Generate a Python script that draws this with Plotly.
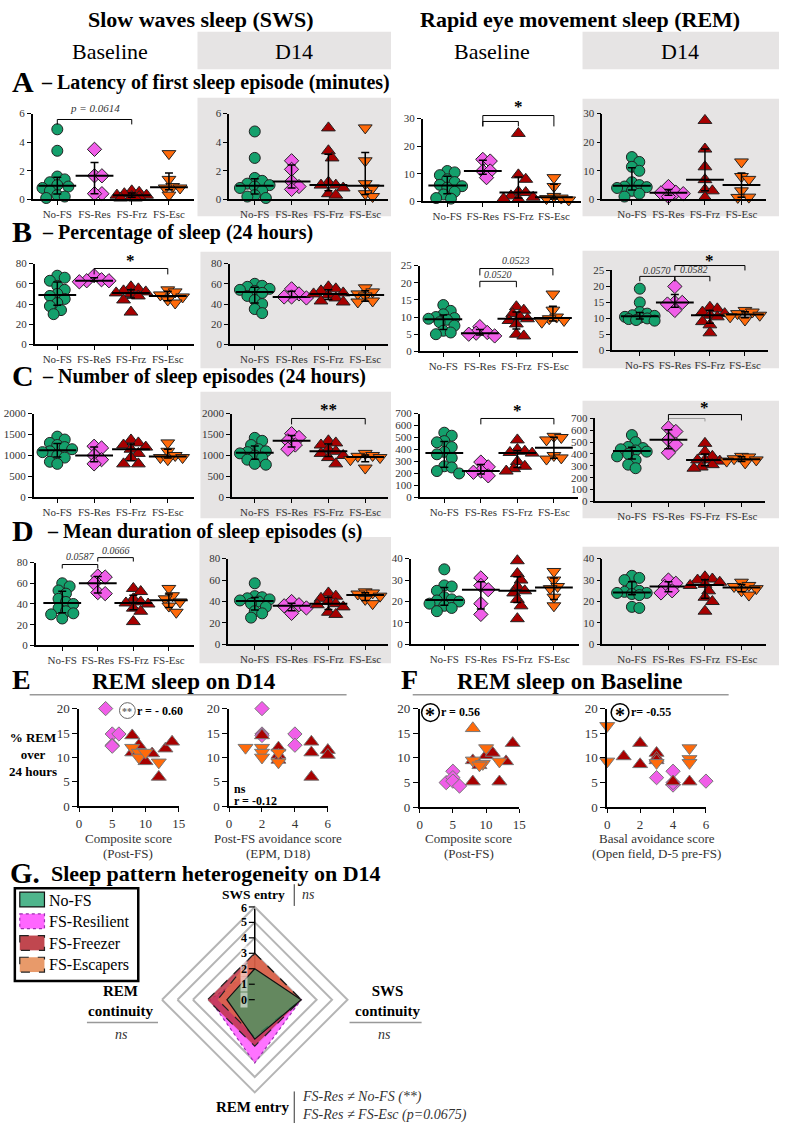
import numpy as np
import plotly.graph_objects as go

W, H = 786, 1133
SERIF = "Liberation Serif"

GROUPS = ["No-FS", "FS-Res", "FS-Frz", "FS-Esc"]
COLORS = ["#14a06c", "#f05ee8", "#a80000", "#ff6a0a"]
SYMBOLS = ["circle", "diamond", "triangle-up", "triangle-down"]

# ---------------- data: dot plots (No-FS, FS-Res, FS-Frz, FS-Esc) ----------------
latency_sws_baseline = [
    [4.9, 3.4, 1.6, 1.4, 1.2, 1.0, 0.9, 0.8, 0.6, 0.3, 0.2, 0.1],
    [3.5, 1.65, 1.65, 0.4, 0.4],
    [0.6, 0.5, 0.4, 0.3, 0.3, 0.2, 0.2, 0.1, 0.1],
    [3.2, 1.4, 0.9, 0.8, 0.8, 0.3]]
latency_sws_d14 = [
    [4.75, 2.9, 1.5, 1.3, 1.1, 1.0, 0.9, 0.8, 0.6, 0.3, 0.2, 0.1],
    [2.7, 2.1, 1.25, 0.9, 0.7],
    [5.0, 3.4, 2.9, 1.2, 1.0, 1.0, 0.8, 0.4, 0.3],
    [5.0, 2.7, 1.1, 0.8, 0.4, 0.2]]
latency_rem_baseline = [
    [11, 10.5, 9.5, 8, 7, 6, 5.5, 5, 3.5, 2.5, 1.2, 1.0],
    [15.2, 14.6, 11, 11, 8.6],
    [24.6, 9.6, 8, 3.5, 3.2, 2, 1.5, 1, 0.8],
    [8.6, 5.4, 1.8, 1.2, 1.0, 0.5]]
latency_rem_d14 = [
    [14.8, 13.1, 11.4, 10, 6, 5, 4.5, 4.3, 4, 3, 2, 1],
    [4.5, 2.5, 2.3, 2, 1],
    [27.6, 17.6, 11.4, 6.9, 3.4, 3.0, 0.7],
    [13.1, 8, 7, 3, 0.8, 0.7]]
pct_sws_baseline = [
    [68, 66, 63, 58, 54, 50, 48, 45, 41, 38, 34, 30],
    [68, 64, 63, 63, 62],
    [57, 55, 53, 52, 51, 50, 48, 44, 32],
    [54, 52, 49, 47, 44, 41]]
pct_sws_d14 = [
    [60, 58, 57, 55, 54, 53, 51, 48, 44, 40, 35, 31],
    [55, 50, 47, 47, 46],
    [57, 55, 53, 51, 50, 49, 46, 43, 42],
    [56, 52, 50, 48, 43, 42]]
pct_rem_baseline = [
    [13.5, 11.8, 10.8, 10, 9.7, 9.5, 9.2, 8.5, 7.5, 6, 5.5, 5],
    [7.2, 5.5, 5.3, 5, 4.5],
    [13, 12, 11, 10, 9.5, 9, 8, 5, 4.5],
    [16.7, 12, 10, 9.5, 9, 8.5]]
pct_rem_d14 = [
    [19.3, 15, 12, 11.5, 11, 10.8, 10.5, 10.2, 10, 9.8, 9.5, 9.3],
    [20, 15, 15, 14.5, 12.5],
    [13.5, 13, 12, 11.5, 11, 10.5, 9, 8, 5.5],
    [12.5, 12, 11.5, 11, 10.5, 9.5]]
num_sws_baseline = [
    [1450, 1380, 1300, 1250, 1200, 1150, 1100, 1080, 1000, 950, 850, 800],
    [1220, 1180, 1000, 900, 800],
    [1370, 1300, 1250, 1200, 1150, 1050, 950, 800, 800],
    [1300, 1100, 1000, 950, 950, 900]]
num_sws_d14 = [
    [1420, 1350, 1250, 1150, 1100, 1080, 1050, 1000, 950, 900, 800, 780],
    [1520, 1430, 1350, 1250, 1150],
    [1350, 1300, 1250, 1150, 1100, 1050, 1000, 950, 800],
    [1050, 1000, 980, 950, 900, 700]]
num_rem_baseline = [
    [540, 515, 470, 460, 420, 380, 360, 330, 260, 250, 220, 200],
    [295, 255, 220, 210, 180],
    [480, 400, 385, 375, 370, 300, 260, 240, 220],
    [510, 500, 480, 350, 330, 320]]
num_rem_d14 = [
    [560, 500, 460, 450, 440, 430, 420, 400, 380, 350, 310, 280],
    [620, 590, 520, 480, 410],
    [490, 420, 380, 350, 350, 340, 310, 290, 280],
    [380, 375, 360, 350, 340, 325]]
dur_sws_baseline = [
    [60, 57, 53, 50, 45, 42, 40, 36, 33, 31, 30, 26],
    [67, 66, 60, 51, 50],
    [55, 52, 45, 42, 41, 40, 36, 33, 23],
    [55, 48, 45, 42, 38, 32]]
dur_sws_d14 = [
    [57, 45, 44, 43, 42, 41, 40, 38, 35, 31, 29, 25],
    [40, 37, 36, 34, 29],
    [48, 45, 43, 40, 38, 37, 35, 30, 28],
    [49, 48, 47, 45, 42, 38]]
dur_rem_baseline = [
    [35, 27.5, 27, 25, 22, 21, 20.5, 20, 19, 18, 17, 15.5],
    [31, 27.5, 25.5, 19, 14],
    [39, 33, 30, 27, 25, 24, 21, 18, 12],
    [34, 30, 27, 26, 22, 18]]
dur_rem_d14 = [
    [32, 31, 30, 27, 25, 24.5, 24, 24, 23.5, 23, 17.5, 17],
    [30, 28.5, 27, 25, 24],
    [31.5, 30.5, 30, 29, 28, 27.5, 25, 22, 20, 15.5],
    [29, 27.5, 27, 26, 25, 23]]

LABELS = ["No-FS", "FS-Res", "FS-Frz", "FS-Esc"]
LABELS_B1 = ["No-FS", "FS-ReS", "FS-Frz", "FS-Esc"]

# ---------------- data: correlations ----------------
E1_RES_X = [4, 5, 6, 5, 5]
E1_RES_Y = [20, 14.8, 14.8, 12.5, 12.3]
E1_FRZ_X = [8, 8, 9, 11, 12, 13, 14, 10]
E1_FRZ_Y = [14.5, 11, 12.5, 10.8, 6, 11.8, 13.2, 9.2]
E1_ESC_X = [8, 9, 9, 10, 12]
E1_ESC_Y = [12, 11, 10, 11, 9]

E2_RES_X = [2, 2, 4, 4, 2]
E2_RES_Y = [20, 14.8, 14.8, 12.5, 14.5]
E2_FRZ_X = [2, 3, 3, 5, 5, 5, 6, 6, 3]
E2_FRZ_Y = [14.5, 12, 10.5, 13.2, 11, 6, 11.5, 10.5, 9.5]
E2_ESC_X = [1, 2, 2, 2, 3, 3]
E2_ESC_Y = [12, 12, 11, 10, 11, 9]

F1_RES_X = [4, 5, 5, 5, 6]
F1_RES_Y = [5, 7.3, 6, 5.3, 4.3]
F1_FRZ_X = [8, 8, 9, 10, 11, 12, 13, 14]
F1_FRZ_Y = [9.5, 5.2, 8.5, 10.5, 11, 5.2, 9.3, 13]
F1_ESC_UP_X = [8]
F1_ESC_UP_Y = [16]
F1_ESC_X = [8, 9.5, 10, 12, 9]
F1_ESC_Y = [9.5, 8.8, 12, 9.3, 8.5]

F2_RES_X = [3, 4, 4, 6, 4]
F2_RES_Y = [6, 7.3, 4.5, 5.3, 5]
F2_FRZ_X = [1, 2, 2, 3, 3, 4, 5, 3]
F2_FRZ_Y = [10.3, 13, 8.7, 11, 10, 5.2, 5.2, 9.5]
F2_ESC_X = [0, 0, 3, 5, 5, 5]
F2_ESC_Y = [16.5, 9.3, 9, 12, 9.8, 9]

# ---------------- data: radar ----------------
RADAR_AXES = ["SWS entry", "SWS continuity", "REM entry", "REM continuity"]
RADAR_NOFS = [2.0, 3.0, 2.55, 1.8]
RADAR_RES = [2.0, 3.0, 4.1, 2.9]
RADAR_FRZ = [3.0, 3.0, 3.0, 3.05]
RADAR_ESC = [3.0, 3.0, 2.4, 2.4]
RADAR_TICKS = [0, 1, 2, 3, 4, 5, 6]

# ---------------- helpers ----------------
def PX(x):
    return x / W


def PY(y):
    return 1 - y / H


fig = go.Figure()
annotations = []
shapes = []
layout_axes = {}


def txt(x, y, s, size, color="black", anchor="center", yanchor="middle", family=SERIF, bg=None):
    a = dict(x=PX(x), y=PY(y), xref="paper", yref="paper", text=s,
             showarrow=False, xanchor=anchor, yanchor=yanchor, borderpad=0,
             font=dict(size=size, family=family, color=color))
    if bg:
        a["bgcolor"] = bg
    annotations.append(a)


def line(x0, y0, x1, y1, color="black", width=1, dash=None):
    d = dict(type="line", xref="paper", yref="paper", x0=PX(x0), y0=PY(y0), x1=PX(x1), y1=PY(y1),
             line=dict(color=color, width=width))
    if dash:
        d["line"]["dash"] = dash
    shapes.append(d)


def rect(x0, y0, x1, y1, fill, lcolor=None, lwidth=0, dash=None, layer="below"):
    d = dict(type="rect", xref="paper", yref="paper", x0=PX(x0), y0=PY(y0), x1=PX(x1), y1=PY(y1),
             fillcolor=fill, line=dict(width=lwidth, color=lcolor or fill), layer=layer)
    if dash:
        d["line"]["dash"] = dash
    shapes.append(d)


def swarm(vals, ppu, dc, d=7.5, cap=15.0):
    """Deterministic beeswarm offsets (in category units), limited spread."""
    order = np.argsort(vals)[::-1]
    placed = []
    offs = np.zeros(len(vals))
    step = d * 0.5
    cands = [0.0]
    m = 1
    while m * step <= cap + 1e-9:
        cands += [m * step, -m * step]
        m += 1
    for idx in order:
        yv = vals[idx] * ppu
        best, bestd, best_alt = None, -1, 0.0
        for c in cands:
            md = min([np.hypot(c - a, yv - b) for a, b in placed] or [1e9])
            if md >= d:
                best = c
                break
            if md > bestd:
                bestd, best_alt = md, c
        if best is None:
            best = best_alt
        placed.append((best, yv))
        offs[idx] = best / dc
    return offs


AXFONT = dict(family=SERIF, size=11, color="#333333")

# panel: data, ymax, dtick, x0, c0, dc, x1, ytop, ybot, labels
panels = [
    (latency_sws_baseline, 6, 2, 30, 55, 37.7, 193, 108, 195, LABELS),
    (latency_sws_d14, 6, 2, 229, 255, 37.3, 390, 108, 195, LABELS),
    (latency_rem_baseline, 30, 10, 425, 450, 36.0, 585, 113, 197, LABELS),
    (latency_rem_d14, 30, 10, 607, 637, 37.0, 773, 108, 195, LABELS),
    (pct_sws_baseline, 80, 20, 32, 55, 37.3, 193, 260, 342, LABELS_B1),
    (pct_sws_d14, 80, 20, 230, 255, 37.3, 390, 260, 342, LABELS),
    (pct_rem_baseline, 25, 5, 422, 446, 37.0, 582, 262, 349, LABELS),
    (pct_rem_d14, 25, 5, 617, 645, 35.5, 775, 267, 348, LABELS),
    (num_sws_baseline, 2000, 500, 31, 55, 37.3, 193, 412, 497, LABELS),
    (num_sws_d14, 2000, 500, 232, 255, 37.3, 390, 412, 497, LABELS),
    (num_rem_baseline, 700, 100, 422, 447, 37.0, 582, 412, 497, LABELS),
    (num_rem_d14, 700, 100, 600, 637, 37.0, 772, 417, 501, LABELS),
    (dur_sws_baseline, 80, 20, 33, 60, 36.0, 193, 563, 647, LABELS),
    (dur_sws_d14, 80, 20, 228, 255, 37.3, 390, 559, 646, LABELS),
    (dur_rem_baseline, 40, 10, 413, 447, 37.0, 583, 559, 646, LABELS),
    (dur_rem_d14, 40, 10, 607, 637, 37.0, 773, 559, 646, LABELS),
]

# gray backgrounds
for (x0, y0, x1, y1) in [(197, 25, 393, 63), (587, 25, 786, 63),
                         (197, 92, 393, 212), (587, 93, 786, 212),
                         (200, 248, 393, 366), (587, 247, 786, 366),
                         (200, 390, 393, 518), (587, 399, 786, 518),
                         (199, 537, 393, 665), (587, 547, 786, 667)]:
    rect(x0, y0, x1, y1, "#e6e4e4")

for k, (data, ymax, dt, x0, c0, dc, x1, ytop, ybot, labs) in enumerate(panels, start=1):
    xn = "x" if k == 1 else f"x{k}"
    yn = "y" if k == 1 else f"y{k}"
    xa = "xaxis" if k == 1 else f"xaxis{k}"
    ya = "yaxis" if k == 1 else f"yaxis{k}"
    ppu = (ybot - ytop) / ymax
    layout_axes[xa] = dict(domain=[PX(x0), PX(x1)], range=[(x0 - c0) / dc, (x1 - c0) / dc],
                           anchor=yn, tickvals=[0, 1, 2, 3], ticktext=labs, showline=True,
                           linecolor="black", linewidth=1.5, ticks="outside", ticklen=4,
                           tickcolor="black", tickwidth=1, tickfont=AXFONT, showgrid=False,
                           zeroline=False, fixedrange=True)
    layout_axes[ya] = dict(domain=[PY(ybot), PY(ytop)], range=[0, ymax], dtick=dt, anchor=xn,
                           showline=True, linecolor="black", linewidth=1.5, ticks="outside",
                           ticklen=4, tickcolor="black", tickwidth=1, tickfont=AXFONT,
                           showgrid=False, zeroline=False, fixedrange=True)
    for g in range(4):
        vals = np.array(data[g], dtype=float)
        offs = swarm(vals, ppu, dc)
        size = 11 if g < 2 else 12
        fig.add_trace(go.Scatter(x=g + offs, y=vals, mode="markers", xaxis=xn, yaxis=yn,
                                 cliponaxis=False, showlegend=False, hoverinfo="skip",
                                 marker=dict(symbol=SYMBOLS[g], size=size, color=COLORS[g],
                                             line=dict(color="#222222", width=1))))
        med = float(np.median(vals))
        q1, q3 = np.percentile(vals, [25, 75], method="weibull")
        fig.add_trace(go.Scatter(x=[g], y=[med], mode="markers", xaxis=xn, yaxis=yn,
                                 cliponaxis=False, showlegend=False, hoverinfo="skip",
                                 marker=dict(symbol="line-ew", size=27, color="black",
                                             line=dict(width=2, color="black")),
                                 error_y=dict(type="data", symmetric=False, array=[q3 - med],
                                              arrayminus=[med - q1], color="black",
                                              thickness=1.5, width=4)))


def bracket(k, i, j, top, leg_i, leg_j, color="black"):
    _, _, _, x0, c0, dc, x1, _, _, _ = panels[k - 1]
    xi = c0 + dc * i
    xj = c0 + dc * j
    line(xi, leg_i, xi, top, color)
    line(xi, top, xj, top, color)
    line(xj, top, xj, leg_j, color)
    return (xi + xj) / 2


STAR = 17
m = bracket(1, 0, 2, 114, 119, 119)
txt(m, 102, "<i>p = 0.0614</i>", 11, "#333333")
m = bracket(3, 1, 3, 110, 121, 121)
bracket(3, 1, 2, 116, 121, 121)
txt(m, 101, "<b>*</b>", STAR)
m = bracket(5, 1, 3, 265, 271, 271)
txt(m, 257, "<b>*</b>", STAR)
m = bracket(7, 1, 3, 265, 272, 272)
txt(m, 257, "<i>0.0523</i>", 10, "#333333")
m = bracket(7, 1, 2, 278, 284, 284)
txt(m, 271, "<i>0.0520</i>", 10, "#333333")
m = bracket(8, 0, 1, 273, 278, 278)
txt(m, 267, "<i>0.0570</i>", 10, "#333333")
m = bracket(8, 1, 2, 273, 278, 278)
txt(m + 2, 266, "<i>0.0582</i>", 10, "#333333")
m = bracket(8, 1, 3, 262, 267, 267)
txt(m, 257, "<b>*</b>", STAR)
m = bracket(10, 1, 3, 417, 423, 423)
txt(m, 408, "<b>**</b>", STAR)
m = bracket(11, 1, 3, 417, 423, 423)
txt(m, 409, "<b>*</b>", STAR)
bracket(12, 1, 2, 417, 420, 420, "#999999")
m = bracket(12, 1, 3, 413, 419, 419)
txt(m, 406, "<b>*</b>", STAR)
m = bracket(13, 0, 1, 565, 569, 569)
txt(m, 557, "<i>0.0587</i>", 10, "#333333")
m = bracket(13, 1, 2, 558, 562, 562)
txt(m, 551, "<i>0.0666</i>", 10, "#333333")

# ---------------- headers & titles ----------------
txt(201, 13, "<b>Slow waves sleep (SWS)</b>", 22)
txt(584, 13, "<b>Rapid eye movement sleep (REM)</b>", 22)
txt(108, 45, "Baseline", 22)
txt(295, 45, "D14", 22)
txt(495, 45, "Baseline", 22)
txt(686, 45, "D14", 22)

for letter, y, xt, s in [("A", 76, 37, "– Latency of first sleep episode (minutes)"),
                         ("B", 228, 38, "– Percentage of sleep (24 hours)"),
                         ("C", 373, 38, "– Number of sleep episodes (24 hours)"),
                         ("D", 531, 44, "– Mean duration of sleep episodes (s)")]:
    txt(8, y, f"<b>{letter}</b>", 30, anchor="left")
    txt(xt, y + 1, f"<b>{s}</b>", 20, anchor="left")

# ---------------- E / F ----------------
txt(8, 682, "<b>E</b>", 28, anchor="left")
txt(183, 684, "<b>REM sleep on D14</b>", 23)
line(27, 697, 348, 697, "#999999", 1.5)
txt(402, 682, "<b>F</b>", 28, anchor="left")
txt(574, 684, "<b>REM sleep on Baseline</b>", 23)
line(415, 697, 735, 697, "#999999", 1.5)

SCFONT = dict(family=SERIF, size=13, color="#333333")
scat = [
    (17, 77, 178, 15, 5, 711, 810,
     [(E1_RES_X, E1_RES_Y, 1, "diamond"), (E1_FRZ_X, E1_FRZ_Y, 2, "triangle-up"),
      (E1_ESC_X, E1_ESC_Y, 3, "triangle-down")]),
    (18, 229, 329, 6, 2, 711, 810,
     [(E2_RES_X, E2_RES_Y, 1, "diamond"), (E2_FRZ_X, E2_FRZ_Y, 2, "triangle-up"),
      (E2_ESC_X, E2_ESC_Y, 3, "triangle-down")]),
    (19, 422, 523, 15, 5, 711, 811,
     [(F1_RES_X, F1_RES_Y, 1, "diamond"), (F1_FRZ_X, F1_FRZ_Y, 2, "triangle-up"),
      (F1_ESC_UP_X, F1_ESC_UP_Y, 3, "triangle-up"), (F1_ESC_X, F1_ESC_Y, 3, "triangle-down")]),
    (20, 612, 712, 6, 2, 711, 811,
     [(F2_RES_X, F2_RES_Y, 1, "diamond"), (F2_FRZ_X, F2_FRZ_Y, 2, "triangle-up"),
      (F2_ESC_X, F2_ESC_Y, 3, "triangle-down")]),
]
for k, x0, x1, xmax, xdt, ytop, ybot, series in scat:
    xn, yn = f"x{k}", f"y{k}"
    layout_axes[f"xaxis{k}"] = dict(domain=[PX(x0), PX(x1)], range=[0, xmax], dtick=xdt, anchor=yn,
                                    showline=True, linecolor="black", linewidth=1.5, ticks="outside",
                                    ticklen=4, tickcolor="black", tickfont=SCFONT, showgrid=False,
                                    zeroline=False, fixedrange=True)
    layout_axes[f"yaxis{k}"] = dict(domain=[PY(ybot), PY(ytop)], range=[0, 20], dtick=5, anchor=xn,
                                    showline=True, linecolor="black", linewidth=1.5, ticks="outside",
                                    ticklen=5, tickcolor="black", tickfont=SCFONT, showgrid=False,
                                    zeroline=False, fixedrange=True)
    for xs, ys, g, sym in series:
        fig.add_trace(go.Scatter(x=xs, y=ys, mode="markers", xaxis=xn, yaxis=yn, cliponaxis=False,
                                 showlegend=False, hoverinfo="skip",
                                 marker=dict(symbol=sym, size=13 if g > 1 else 11, color=COLORS[g],
                                             line=dict(color="#777777", width=1))))

txt(30, 758, "<b>% REM<br>over<br>24 hours</b>", 13)
for cx, l1, l2 in [(127, "Composite score", "(Post-FS)"),
                   (279, "Post-FS avoidance score", "(EPM, D18)"),
                   (472, "Composite score", "(Post-FS)"),
                   (662, "Basal avoidance score", "(Open field, D-5 pre-FS)")]:
    txt(cx, 843, l1, 13, "#333333")
    txt(cx, 858, l2, 13, "#333333")

shapes.append(dict(type="circle", xref="paper", yref="paper", x0=PX(118), x1=PX(134),
                   y0=PY(721), y1=PY(705), line=dict(color="#666666", width=1)))
txt(126, 714, "<b>**</b>", 10, "#666666")
txt(135, 713, "<b>r = - 0.60</b>", 12, anchor="left")
txt(233, 792, "<b>ns</b>", 12, anchor="left")
txt(233, 805, "<b>r = -0.12</b>", 12, anchor="left")
for cx, lab in [(433, "r = 0.56"), (625, "r= -0.55")]:
    shapes.append(dict(type="circle", xref="paper", yref="paper", x0=PX(cx - 9), x1=PX(cx + 9),
                       y0=PY(724), y1=PY(706), line=dict(color="black", width=1.5)))
    txt(cx, 718, "<b>*</b>", 20)
    txt(cx + 10, 714, f"<b>{lab}</b>", 12, anchor="left")

# ---------------- G radar ----------------
txt(6, 878, "<b>G.</b>", 29, anchor="left")
txt(48, 878, "<b>Sleep pattern heterogeneity on D14</b>", 22, anchor="left")

RCX, RCY, RPIX = 255, 1006, 94  # centre and pixel radius of the radar
radar = [
    (RADAR_RES, "rgba(255,90,255,0.85)", "#9b30b0", "dot"),
    (RADAR_FRZ, "rgba(190,50,70,0.85)", "#222222", "dash"),
    (RADAR_ESC, "rgba(230,120,70,0.6)", "#222222", "dash"),
    (RADAR_NOFS, "rgba(60,150,100,0.75)", "#111111", "solid"),
]
for vals, fc, lc, dash in radar:
    fig.add_trace(go.Scatterpolar(r=vals + [vals[0]], theta=RADAR_AXES + [RADAR_AXES[0]],
                                  mode="lines", fill="toself", fillcolor=fc,
                                  line=dict(color=lc, width=1.2, dash=dash),
                                  showlegend=False, hoverinfo="skip"))

polar = dict(
    domain=dict(x=[PX(RCX - RPIX), PX(RCX + RPIX)], y=[PY(RCY + RPIX), PY(RCY - RPIX)]),
    bgcolor="rgba(0,0,0,0)", gridshape="linear",
    radialaxis=dict(range=[0, max(RADAR_TICKS)], tickvals=RADAR_TICKS, angle=90, showline=True,
                    linecolor="black", linewidth=1.5, ticks="", showticklabels=False,
                    gridcolor="#b5b5b5", gridwidth=2, layer="below traces"),
    angularaxis=dict(direction="clockwise", rotation=90, type="category",
                     categoryarray=RADAR_AXES, showticklabels=False, ticks="",
                     showgrid=False, showline=True, linecolor="#b5b5b5", linewidth=2),
)
# radial tick marks and bold labels on the left of the vertical axis
for t in RADAR_TICKS:
    yy = RCY - t * RPIX / max(RADAR_TICKS)
    line(RCX - 6, yy, RCX, yy, "black", 1.2)
    txt(RCX - 11, yy + (1 if t == max(RADAR_TICKS) else 0), f"<b>{t}</b>", 12, "black",
        bg="rgba(255,255,255,0.55)" if t <= 3 else None)

# legend box
rect(12, 893, 137, 987, "white", "black", 2.5, layer="above")
for i, (lab, fc, lc, dash) in enumerate([("No-FS", "#4fb58c", "#111111", "solid"),
                                         ("FS-Resilient", "#ff66ff", "#9b30b0", "dot"),
                                         ("FS-Freezer", "#c0474f", "#222222", "dash"),
                                         ("FS-Escapers", "#e89a6a", "#222222", "dash")]):
    y0 = 897 + i * 22
    rect(17, y0, 42, y0 + 15, fc, lc, 1.2, dash=dash, layer="above")
    txt(46, y0 + 8, lab, 16, anchor="left")

txt(254, 899, "<b>SWS entry</b>", 13.5)
line(295, 889, 295, 911, "#333333", 1)
txt(302, 899, "<i>ns</i>", 14, "#333333", anchor="left")
txt(390, 1007, "<b>SWS<br>continuity</b>", 15)
line(351, 1029, 424, 1029, "#999999", 1.5)
txt(386, 1041, "<i>ns</i>", 14, "#333333")
txt(120, 1007, "<b>REM<br>continuity</b>", 15)
line(85, 1029, 157, 1029, "#999999", 1.5)
txt(120, 1041, "<i>ns</i>", 14, "#333333")
txt(253, 1115, "<b>REM entry</b>", 15)
line(295, 1099, 295, 1131, "#333333", 1)
txt(302, 1105, "<i>FS-Res ≠ No-FS (**)</i>", 14, "#333333", anchor="left")
txt(302, 1123, "<i>FS-Res ≠ FS-Esc (p=0.0675)</i>", 14, "#333333", anchor="left")

fig.update_layout(width=W, height=H, margin=dict(l=0, r=0, t=0, b=0), autosize=False,
                  paper_bgcolor="white", plot_bgcolor="rgba(0,0,0,0)", showlegend=False,
                  annotations=annotations, shapes=shapes, polar=polar,
                  font=dict(family=SERIF), **layout_axes)
fig.write_html("out.html")
